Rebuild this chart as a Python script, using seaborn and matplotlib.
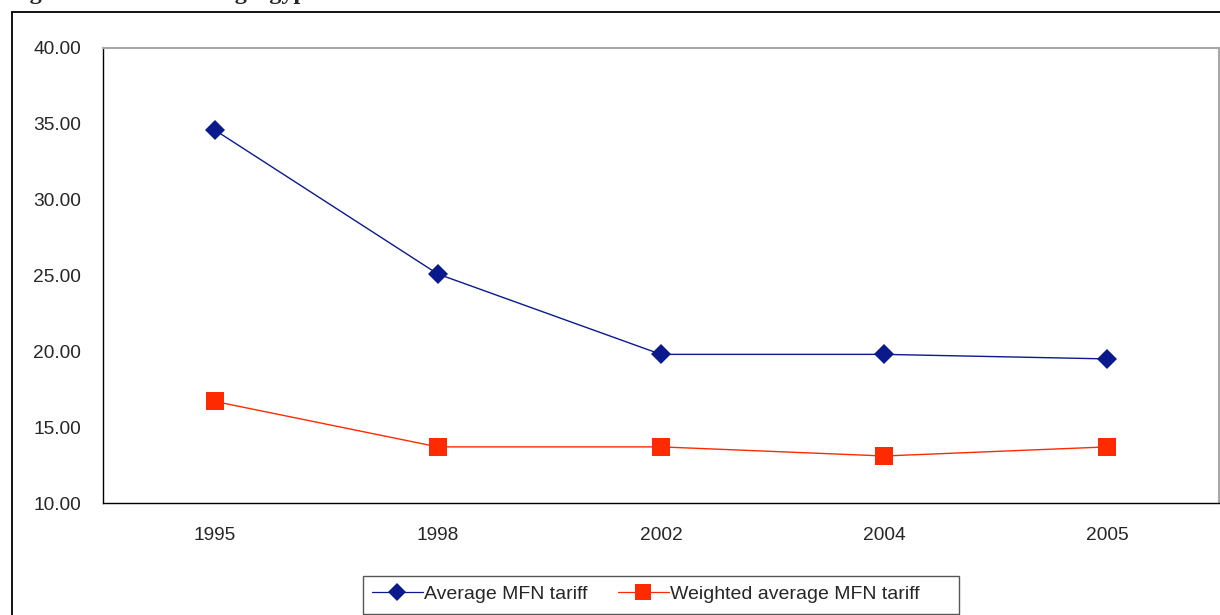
import pandas as pd
import seaborn as sns
import matplotlib.pyplot as plt
from matplotlib.lines import Line2D
from matplotlib.patches import Rectangle
from matplotlib.ticker import FixedLocator, FormatStrFormatter

years = ['1995', '1998', '2002', '2004', '2005']
avg_mfn = [34.6, 25.1, 19.8, 19.8, 19.5]
weighted_mfn = [16.7, 13.7, 13.7, 13.1, 13.7]
series_names = ['Average MFN tariff', 'Weighted average MFN tariff']

sns.set_style('white')
plt.rcParams['font.family'] = ['Liberation Sans', 'DejaVu Sans']

df = pd.DataFrame({
    'year': years * 2,
    'tariff': avg_mfn + weighted_mfn,
    'series': [series_names[0]] * len(years) + [series_names[1]] * len(years),
})

W, H = 1220, 615
fig = plt.figure(figsize=(W / 100, H / 100), dpi=100)
ax = fig.add_axes([103 / W, 1 - 503 / H, (1219 - 103) / W, (503 - 48) / H])

blue, red = '#0a1a8c', '#ff2a00'
sns.lineplot(data=df, x='year', y='tariff', hue='series', style='series',
             palette={series_names[0]: blue, series_names[1]: red},
             markers={series_names[0]: 'D', series_names[1]: 's'},
             dashes=False, linewidth=1.0, markersize=13,
             markeredgewidth=0, ax=ax, legend=False)
# diamond a bit smaller than square
for ln in ax.lines:
    if ln.get_marker() == 'D':
        ln.set_markersize(10.5)

ax.set_xlim(-0.5, 4.5)
ax.set_ylim(10, 40)
ax.set_yticks([10, 15, 20, 25, 30, 35, 40])
ax.yaxis.set_major_formatter(FormatStrFormatter('%.2f'))
ax.xaxis.set_minor_locator(FixedLocator([-0.5, 0.5, 1.5, 2.5, 3.5, 4.5]))
ax.tick_params(axis='x', which='major', length=0, pad=17, labelsize=13.8)
ax.tick_params(axis='x', which='minor', length=5, width=0.8, direction='out', color='black')
ax.tick_params(axis='y', length=5, width=0.8, direction='out', color='black', pad=11, labelsize=13.8)
ax.set_xlabel('')
ax.set_ylabel('')

for side in ['left', 'bottom']:
    ax.spines[side].set_color('black')
    ax.spines[side].set_linewidth(1.0)
for side in ['top', 'right']:
    ax.spines[side].set_color('#a8a8a8')
    ax.spines[side].set_linewidth(1.5)

# legend: frame drawn separately so the right padding matches the original
handles = [
    Line2D([], [], color=blue, marker='D', markersize=9, markeredgewidth=0, linewidth=0.9),
    Line2D([], [], color=red, marker='s', markersize=12, markeredgewidth=0, linewidth=0.9),
]
fig.legend(handles, series_names, loc='center left',
           bbox_to_anchor=(372 / W, 1 - 594 / H), bbox_transform=fig.transFigure,
           ncol=2, fontsize=14, frameon=False, handlelength=2.6, handletextpad=0.05,
           columnspacing=1.6, borderpad=0, borderaxespad=0)
fig.add_artist(Rectangle((363 / W, 1 - 614 / H), (959 - 363) / W, (614 - 576) / H,
                         transform=fig.transFigure, fill=False, edgecolor='#555555',
                         linewidth=1.0))

# outer chart border (top and left visible, rest cropped)
fig.add_artist(Line2D([12 / W, 1], [1 - 11.5 / H, 1 - 11.5 / H], transform=fig.transFigure,
                      color='black', linewidth=1.3))
fig.add_artist(Line2D([12 / W, 12 / W], [0, 1 - 11.5 / H], transform=fig.transFigure,
                      color='black', linewidth=1.3))

# title cropped at the top of the picture: only descenders show
fig.text(8 / W, 1 + 1 / H, 'Figure 1: Tariffs facing Egypt', family='Liberation Serif',
         fontweight='bold', fontsize=17.5, va='baseline', ha='left')

fig.savefig('out.png', dpi=100)
